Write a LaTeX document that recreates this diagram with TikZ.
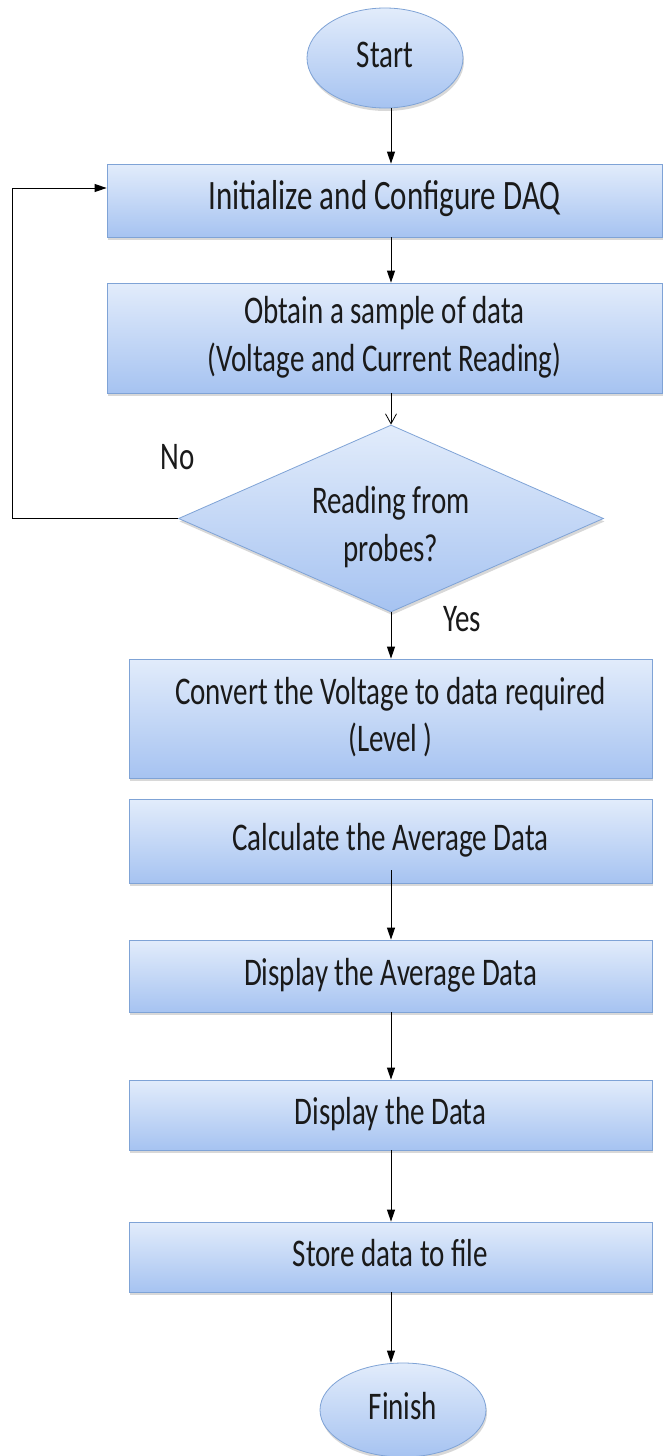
\documentclass[tikz,border=0pt]{standalone}
\usepackage{fontspec}
\setmainfont{Carlito}
\usetikzlibrary{shapes.geometric,arrows.meta,shadows}
\definecolor{boxtop}{HTML}{E2ECFB}
\definecolor{boxbot}{HTML}{A6C3F1}
\definecolor{boxedge}{HTML}{7FA3D6}
\definecolor{inkcol}{HTML}{1A1A1A}
\newcommand{\stx}[2]{\scalebox{1}[1.35]{\fontsize{#1}{35}\selectfont\begin{tabular}{@{}c@{}}#2\end{tabular}}}
\begin{document}
\begin{tikzpicture}[x=1pt,y=-1pt,
  shade base/.style={draw=boxedge, line width=0.8pt, top color=boxtop, bottom color=boxbot, inner sep=0pt, text=inkcol,
    drop shadow={shadow xshift=1pt,shadow yshift=-3pt,opacity=0.3}},
  proc/.style={shade base, rectangle},
  term/.style={shade base, ellipse},
  decision/.style={shade base, diamond, aspect=2.3},
  lbl/.style={inner sep=0pt, text=inkcol},
  arr/.style={-{Triangle[length=12pt,width=8pt]}, line width=1pt, black},
  openarr/.style={-{Straight Barb[length=10pt,width=11pt,line width=0.8pt]}, line width=0.8pt, black}
  ]
\fill[white] (0,0) rectangle (665,1456);
\useasboundingbox (0,0) rectangle (665,1456);

\node[term, minimum width=156pt, minimum height=100pt] (start) at (385,58) {\stx{29}{Start}};
\node[proc, minimum width=555pt, minimum height=73pt] (init) at (384.5,200.5) {\stx{31}{Initialize and Configure DAQ}};
\node[proc, minimum width=555pt, minimum height=110pt] (obtain) at (384.5,338) {\stx{29}{Obtain a sample of data\\(Voltage and Current Reading)}};
\node[decision, minimum width=425pt, minimum height=187pt] (dec) at (391,518.5) {};
\node[lbl] (dectext) at (391,528) {\stx{29}{Reading from\\probes?}};
\node[proc, minimum width=523pt, minimum height=119pt] (convert) at (390.5,718.5) {\stx{29}{Convert the Voltage to data required\\(Level )}};
\node[proc, minimum width=523pt, minimum height=84pt] (calc) at (390.5,841) {\stx{29}{Calculate the Average Data}};
\node[proc, minimum width=523pt, minimum height=72pt] (dispavg) at (390.5,976) {\stx{29}{Display the Average Data}};
\node[proc, minimum width=523pt, minimum height=70pt] (dispdata) at (390.5,1115) {\stx{29}{Display the Data}};
\node[proc, minimum width=523pt, minimum height=70pt] (store) at (390.5,1257) {\stx{29}{Store data to file}};
\node[term, minimum width=166pt, minimum height=94pt] (finish) at (403,1410) {\stx{29}{Finish}};

\node[lbl] (no) at (178,460) {\stx{29}{No}};
\node[lbl] (yes) at (462,622) {\stx{29}{Yes}};

\coordinate (spine) at (391,0);
\coordinate (loopc) at (12,188);
\path (calc.south -| spine) ++(0,-13) coordinate (calcout);

\draw[arr] (start.south -| spine) -- (init.north -| spine);
\draw[arr] (init.south -| spine) -- (obtain.north -| spine);
\draw[openarr] (obtain.south -| spine) -- (dec.north);
\draw[arr] (dec.south) -- (convert.north -| spine);
\draw[arr] (calcout) -- (dispavg.north -| spine);
\draw[arr] (dispavg.south -| spine) -- (dispdata.north -| spine);
\draw[arr] (dispdata.south -| spine) -- (store.north -| spine);
\draw[arr] (store.south -| spine) -- (finish.north -| spine);
\draw[arr] (dec.west) -| (loopc) -- (loopc -| init.west);
\end{tikzpicture}
\end{document}
